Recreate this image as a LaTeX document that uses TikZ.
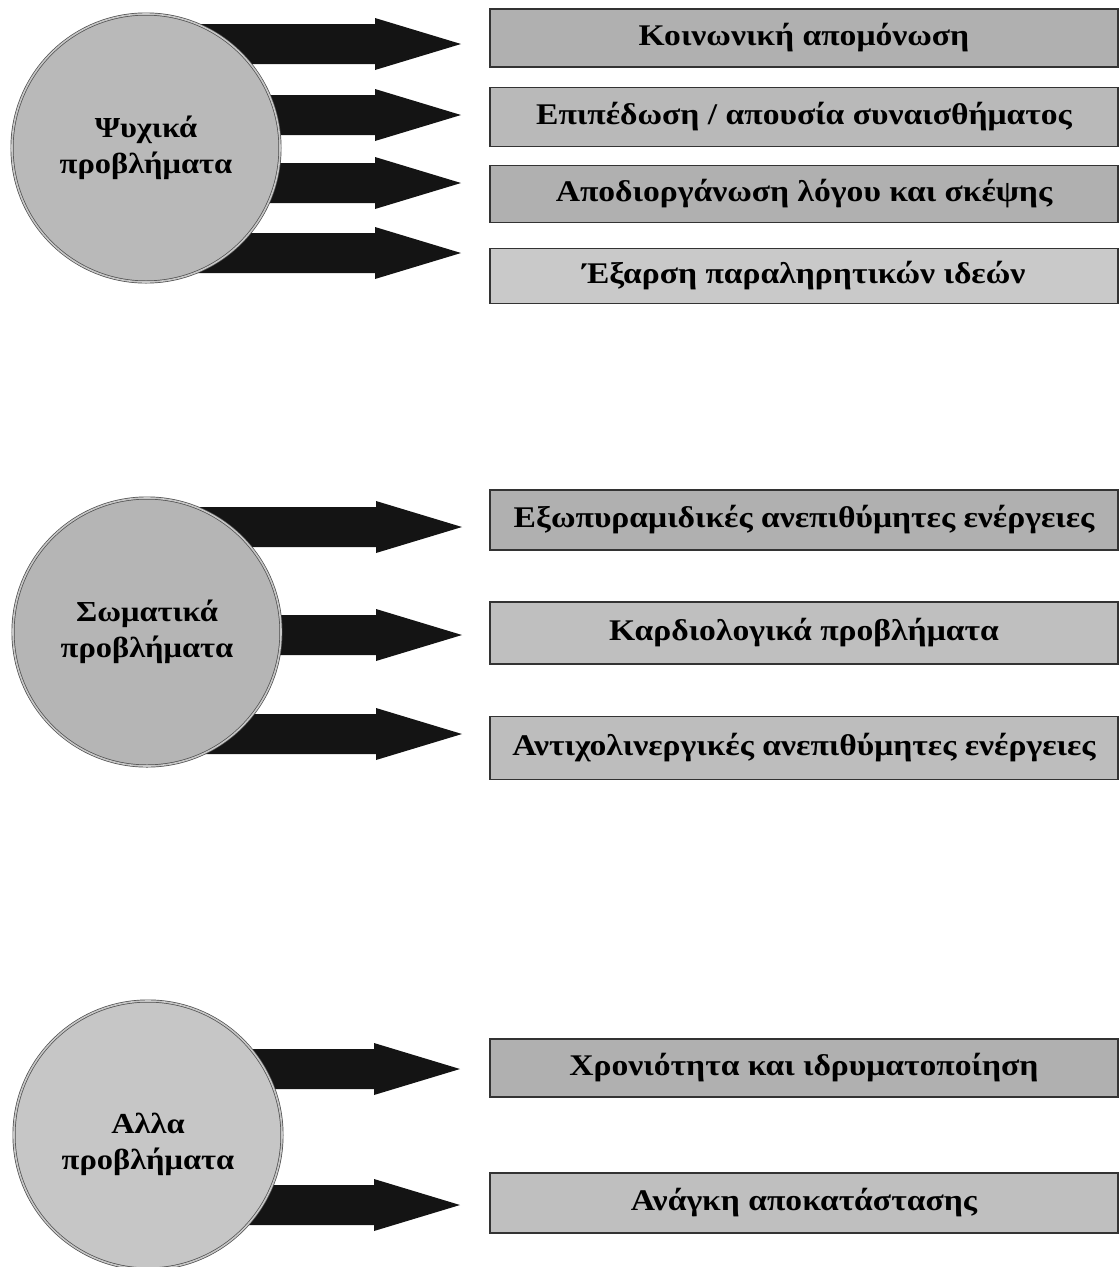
\documentclass[tikz,border=0pt]{standalone}
\usepackage{fontspec}
\setmainfont{Liberation Serif}[FakeStretch=1.12]
\begin{document}
\begin{tikzpicture}[x=1pt,y=-1pt,
  fattip/.style={fill=black!92},
  circ/.style={circle, minimum size=268pt, inner sep=0pt, draw=black!70, line width=0.7pt,
    double=gray!45, double distance=1.6pt, align=center,
    font=\fontsize{29}{36}\selectfont\bfseries},
  box/.style={rectangle, minimum width=628pt, minimum height=58pt, inner sep=0pt,
    draw=black!80, line width=1.3pt, fill=gray!62,
    font=\fontsize{30}{34}\selectfont\bfseries},
  fatarrow/.pic={\fill[fattip] (-310,-20) -- (-86,-20) -- (-86,-26) -- (0,0) -- (-86,26) -- (-86,20) -- (-310,20) -- cycle;}
]
\useasboundingbox (0,0) rectangle (1119,1267);
% ---- group 1
\coordinate (t1) at (461,44);
\coordinate (t2) at (461,115);
\coordinate (t3) at (461,183);
\coordinate (t4) at (461,253);
\foreach \c in {t1,t2,t3,t4} \pic at (\c) {fatarrow};
\node[circ, fill=gray!55] (c1) at (146,148) {Ψυχικά\\προβλήματα};
\node[box] (b11) at (804,38) {Κοινωνική απομόνωση};
\node[box, minimum height=59pt, fill=gray!55] (b12) at (804,117) {Επιπέδωση / απουσία συναισθήματος};
\node[box, minimum height=57pt] (b13) at (804,194) {Αποδιοργάνωση λόγου και σκέψης};
\node[box, minimum height=55pt, fill=gray!42] (b14) at (804,276) {Έξαρση παραληρητικών ιδεών};
% ---- group 2
\coordinate (m1) at (462,527);
\coordinate (m2) at (462,635);
\coordinate (m3) at (462,734);
\foreach \c in {m1,m2,m3} \pic at (\c) {fatarrow};
\node[circ, fill=gray!58] (c2) at (147,632) {Σωματικά\\προβλήματα};
\node[box, minimum height=60pt] (b21) at (804,520) {Εξωπυραμιδικές ανεπιθύμητες ενέργειες};
\node[box, minimum height=62pt, fill=gray!50] (b22) at (804,633) {Καρδιολογικά προβλήματα};
\node[box, minimum height=63pt, fill=gray!52] (b23) at (804,748) {Αντιχολινεργικές ανεπιθύμητες ενέργειες};
% ---- group 3
\coordinate (n1) at (460,1069);
\coordinate (n2) at (460,1205);
\foreach \c in {n1,n2} \pic at (\c) {fatarrow};
\node[circ, fill=gray!45] (c3) at (148,1135) {};
\node[align=center, font=\fontsize{29}{36}\selectfont\bfseries] (c3t) at ([yshift=-9pt]c3.center) {Αλλα\\προβλήματα};
\node[box] (b31) at (804,1068) {Χρονιότητα και ιδρυματοποίηση};
\node[box, minimum height=60pt, fill=gray!50] (b32) at (804,1203) {Ανάγκη αποκατάστασης};
\end{tikzpicture}
\end{document}
